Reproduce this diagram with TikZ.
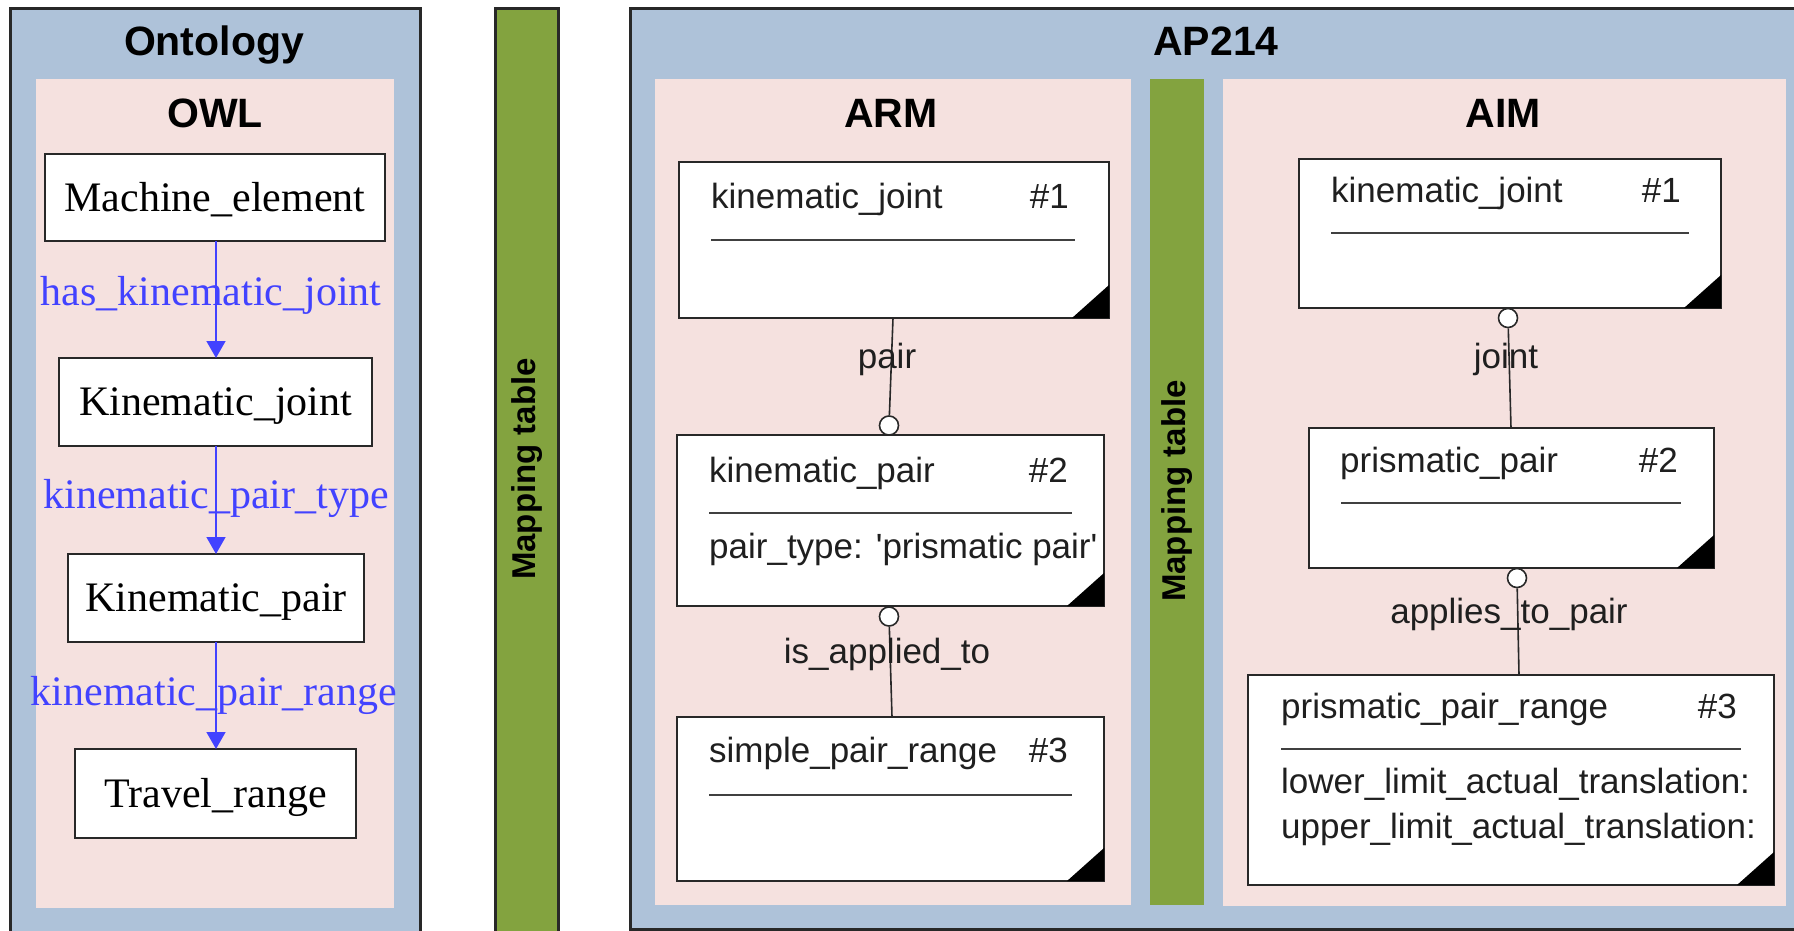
\documentclass[tikz,border=0pt]{standalone}
\usepackage{fontspec}
\setmainfont{Liberation Serif}
\setsansfont{Liberation Sans}
% attribute font without TeX quote ligatures, so ' stays a straight quote
\newfontfamily\attrfont{Liberation Sans}
\usetikzlibrary{arrows.meta,calc}

\definecolor{panelblue}{RGB}{174,194,217}
\definecolor{panelpink}{RGB}{245,225,223}
\definecolor{bargreen}{RGB}{131,163,63}
\definecolor{linkblue}{RGB}{66,66,255}
\definecolor{edge}{RGB}{40,40,40}

\begin{document}
\begin{tikzpicture}[x=1pt,y=-1pt,
  panel/.style={fill=panelblue, draw=edge, line width=3pt},
  inner panel/.style={fill=panelpink},
  mapbar/.style={fill=bargreen},
  title/.style={font=\sffamily\bfseries\fontsize{41}{48}\selectfont, inner sep=0pt, anchor=base},
  barlabel/.style={font=\sffamily\bfseries\fontsize{33}{40}\selectfont, rotate=90, inner sep=0pt},
  classbox/.style={draw=edge, line width=2.5pt, fill=white, inner sep=0pt, outer sep=0pt,
    font=\fontsize{42}{50}\selectfont, text height=27pt, text depth=0pt},
  property/.style={draw=linkblue, line width=1.6pt, -{Triangle[length=17pt,width=19pt]}},
  proplabel/.style={text=linkblue, font=\fontsize{42}{50}\selectfont, inner sep=0pt, anchor=base},
  entity/.style={draw=edge, line width=2.5pt, fill=white, inner sep=0pt, outer sep=0pt, anchor=north west},
  attr/.style={font=\attrfont\fontsize{35}{42}\selectfont, inner sep=0pt, text=black!88},
  divider/.style={draw=black!75, line width=2.5pt},
  relation/.style={draw=edge, line width=1.6pt},
  ring/.style={circle, draw=edge, line width=1.6pt, fill=white, minimum size=19pt, inner sep=0pt},
  rellabel/.style={font=\attrfont\fontsize{35}{42}\selectfont, inner sep=0pt, anchor=base, text=black!88},
]
\useasboundingbox (0,0) rectangle (1794,930);
\clip (0,0) rectangle (1794,930);

% ---------- containers ----------
\path[panel] (10,8) rectangle (420,960);
\path[inner panel] (36,79) rectangle (394,908);
\path[mapbar, draw=edge, line width=3pt] (495,8) rectangle (558,960);
\path[panel] (630,8) rectangle (1820,929);
\path[inner panel] (655,79) rectangle (1131,905);
\path[mapbar] (1150,79) rectangle (1204,905);
\path[inner panel] (1223,79) rectangle (1786,906);

\node[title] (ontology) at (214,55) {Ontology};
\node[title] (owl) at (215,127) {OWL};
\node[title] (ap214) at (1216,55) {AP214};
\node[title] (arm) at (891,127) {ARM};
\node[title] (aim) at (1503,127) {AIM};

\node[barlabel] (map1) at (527,469) {Mapping table};
\node[barlabel] (map2) at (1177,491) {Mapping table};

% ---------- OWL classes ----------
\node[classbox, minimum width=340pt, minimum height=87pt] (me) at (215,197.5) {Machine\_element};
\node[classbox, minimum width=313pt, minimum height=88pt] (kj) at (215.5,402) {Kinematic\_joint};
\node[classbox, minimum width=296pt, minimum height=88pt] (kp) at (216,598) {Kinematic\_pair};
\node[classbox, minimum width=281pt, minimum height=89pt] (tr) at (215.5,793.5) {Travel\_range};

\draw[property] (me.south -| 216,0) -- (kj.north -| 216,0);
\draw[property] (kj.south -| 216,0) -- (kp.north -| 216,0);
\draw[property] (kp.south -| 216,0) -- (tr.north -| 216,0);

\node[proplabel] (l1) at (211,305) {has\_kinematic\_joint};
\node[proplabel] (l2) at (216,508) {kinematic\_pair\_type};
\node[proplabel] (l3) at (214,705) {kinematic\_pair\_range};

% ---------- ARM entities ----------
\node[entity, minimum width=430pt, minimum height=156pt] (arm1) at (679,162) {};
\node[entity, minimum width=427pt, minimum height=171pt] (arm2) at (677,435) {};
\node[entity, minimum width=427pt, minimum height=164pt] (arm3) at (677,717) {};

% ---------- AIM entities ----------
\node[entity, minimum width=422pt, minimum height=149pt] (aim1) at (1299,159) {};
\node[entity, minimum width=405pt, minimum height=140pt] (aim2) at (1309,428) {};
\node[entity, minimum width=526pt, minimum height=210pt] (aim3) at (1248,675) {};

% corner marks
\foreach \e in {arm1,arm2,arm3,aim1,aim2,aim3}
  \fill[black] (\e.south east) -- ++(-37,0) -- ++(37,-33) -- cycle;

% entity headers, dividers and attributes
\node[attr, anchor=base west] (arm1n) at (711,208) {kinematic\_joint};
\node[attr, anchor=base east] (arm1h) at (1069,208) {\#1};
\draw[divider] (711,240) -- (1075,240);

\node[attr, anchor=base west] (arm2n) at (709,482) {kinematic\_pair};
\node[attr, anchor=base east] (arm2h) at (1068,482) {\#2};
\draw[divider] (709,513) -- (1072,513);
\node[attr, anchor=base west] (arm2a) at (709,558) {pair\_type: 'prismatic pair'};

\node[attr, anchor=base west] (arm3n) at (709,762) {simple\_pair\_range};
\node[attr, anchor=base east] (arm3h) at (1068,762) {\#3};
\draw[divider] (709,795) -- (1072,795);

\node[attr, anchor=base west] (aim1n) at (1331,202) {kinematic\_joint};
\node[attr, anchor=base east] (aim1h) at (1681,202) {\#1};
\draw[divider] (1331,233) -- (1689,233);

\node[attr, anchor=base west] (aim2n) at (1340,472) {prismatic\_pair};
\node[attr, anchor=base east] (aim2h) at (1678,472) {\#2};
\draw[divider] (1341,503) -- (1681,503);

\node[attr, anchor=base west] (aim3n) at (1281,718) {prismatic\_pair\_range};
\node[attr, anchor=base east] (aim3h) at (1737,718) {\#3};
\draw[divider] (1281,749) -- (1741,749);
\node[attr, anchor=base west] (aim3a) at (1281,793) {lower\_limit\_actual\_translation:};
\node[attr, anchor=base west] (aim3b) at (1281,838) {upper\_limit\_actual\_translation:};

% ---------- relations ----------
\node[ring] (r1) at (889,425.5) {};
\draw[relation] (arm1.south -| 893,0) -- (r1);
\node[rellabel] (pair) at (887,368) {pair};

\node[ring] (r2) at (889,616.5) {};
\draw[relation] (r2) -- (arm3.north -| 892,0);
\node[rellabel] (isapp) at (887,663) {is\_applied\_to};

\node[ring] (r3) at (1508,318) {};
\draw[relation] (r3) -- (aim2.north -| 1511,0);
\node[rellabel] (joint) at (1506,368) {joint};

\node[ring] (r4) at (1517,578) {};
\draw[relation] (r4) -- (aim3.north -| 1519,0);
\node[rellabel] (atp) at (1509,623) {applies\_to\_pair};
\end{tikzpicture}
\end{document}
